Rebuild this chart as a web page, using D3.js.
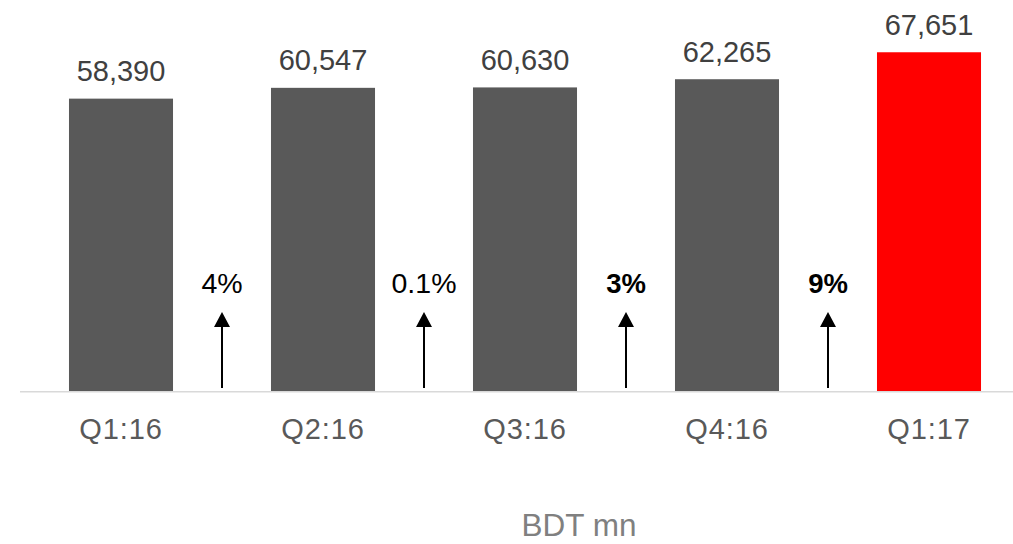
<!DOCTYPE html>
<html>
<head>
<meta charset="utf-8">
<script src="https://cdn.jsdelivr.net/npm/d3@7"></script>
<style>
  html, body { margin: 0; padding: 0; background: #ffffff; }
  svg { display: block; font-family: Arial, "Liberation Sans", sans-serif; }
</style>
</head>
<body>
<svg id="chart" width="1013" height="544"></svg>
<script>
// ---- data ----
const categories = ["Q1:16", "Q2:16", "Q3:16", "Q4:16", "Q1:17"];
const values = [58390, 60547, 60630, 62265, 67651];
const barColors = ["#595959", "#595959", "#595959", "#595959", "#ff0000"];
const growthLabels = ["4%", "0.1%", "3%", "9%"];
const growthBold = [false, false, true, true];
const unitLabel = "BDT mn";

// ---- layout ----
const W = 1013, H = 544;
const baseY = 391;
const svg = d3.select("#chart");

const x = d3.scaleBand()
  .domain(categories)
  .range([20, 1030])
  .paddingInner(0.485)
  .paddingOuter(0.2425);

const y = d3.scaleLinear()
  .domain([0, 70000])
  .range([baseY, baseY - 350.5]);

// bars
svg.append("g").selectAll("rect")
  .data(values)
  .join("rect")
  .attr("x", (d, i) => x(categories[i]))
  .attr("y", d => y(d))
  .attr("width", x.bandwidth())
  .attr("height", d => y(0) - y(d))
  .attr("fill", (d, i) => barColors[i]);

// axis baseline
const axis = d3.axisBottom(x).tickSize(0).tickPadding(0);
const gAxis = svg.append("g").attr("transform", `translate(0,${baseY})`).call(axis);
gAxis.select(".domain").remove();
gAxis.append("line")
  .attr("x1", 20).attr("x2", W)
  .attr("y1", 0.75).attr("y2", 0.75)
  .attr("stroke", "#d9d9d9").attr("stroke-width", 1.5);
gAxis.selectAll(".tick text")
  .attr("y", 47.5)
  .attr("dy", 0)
  .attr("fill", "#595959")
  .style("font-size", "29px")
  .style("letter-spacing", "0.9px")
  .style("font-family", "Arial, 'Liberation Sans', sans-serif");

// value labels
svg.append("g").selectAll("text")
  .data(values)
  .join("text")
  .attr("x", (d, i) => x(categories[i]) + x.bandwidth() / 2)
  .attr("y", d => y(d) - 17.5)
  .attr("text-anchor", "middle")
  .attr("fill", "#404040")
  .style("font-size", "29px")
  .text(d => d3.format(",")(d));

// growth arrows & labels between bars
const gaps = growthLabels.map((t, i) => {
  const a = x(categories[i]) + x.bandwidth();
  const b = x(categories[i + 1]);
  return (a + b) / 2;
});

const ga = svg.append("g");
gaps.forEach((cx, i) => {
  ga.append("line")
    .attr("x1", cx).attr("x2", cx)
    .attr("y1", 388).attr("y2", 318)
    .attr("stroke", "#000").attr("stroke-width", 2);
  ga.append("path")
    .attr("d", `M${cx},312 L${cx - 8},327 L${cx + 8},327 Z`)
    .attr("fill", "#000");
  ga.append("text")
    .attr("x", cx)
    .attr("y", 292.5)
    .attr("text-anchor", "middle")
    .attr("fill", "#000")
    .style("font-size", growthBold[i] ? "27.5px" : "28.5px")
    .style("font-weight", growthBold[i] ? "bold" : "normal")
    .text(growthLabels[i]);
});

// unit label
svg.append("text")
  .attr("x", 579)
  .attr("y", 536)
  .attr("text-anchor", "middle")
  .attr("fill", "#808080")
  .style("font-size", "31.5px")
  .text(unitLabel);
</script>
</body>
</html>
